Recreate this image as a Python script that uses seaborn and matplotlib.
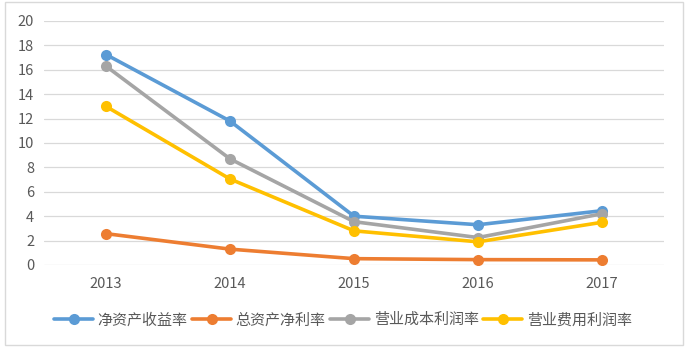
import matplotlib
matplotlib.use("Agg")
import matplotlib.pyplot as plt
import seaborn as sns
import pandas as pd
from matplotlib.patches import Rectangle

years = ["2013", "2014", "2015", "2016", "2017"]
series_names = ["净资产收益率", "总资产净利率", "营业成本利润率", "营业费用利润率"]
roe = [17.25, 11.8, 4.0, 3.3, 4.45]
roa = [2.57, 1.3, 0.52, 0.44, 0.42]
cost_margin = [16.3, 8.7, 3.55, 2.25, 4.2]
expense_margin = [13.0, 7.05, 2.8, 1.9, 3.5]
colors = ["#5B9BD5", "#ED7D31", "#A5A5A5", "#FFC000"]

values = [roe, roa, cost_margin, expense_margin]
rows = []
for name, vals in zip(series_names, values):
    for y, v in zip(years, vals):
        rows.append({"year": y, "value": v, "series": name})
df = pd.DataFrame(rows)

sns.set_style("white")
plt.rcParams['font.family'] = ['Noto Sans CJK SC', 'DejaVu Sans']

fig = plt.figure(figsize=(6.94, 3.52), dpi=100)
ax = fig.add_axes([44/694, 1-265/352, 620/694, 244/352])

sns.lineplot(data=df, x="year", y="value", hue="series", hue_order=series_names,
             palette=colors, marker="o", markersize=8, markeredgewidth=0,
             linewidth=2.6, ax=ax, sort=False)

ax.set_xlim(-0.5, 4.5)
ax.set_ylim(0, 20)
ax.set_yticks(range(0, 21, 2))
ax.set_xlabel("")
ax.set_ylabel("")
for s in ax.spines.values():
    s.set_visible(False)
ax.grid(axis="y", color="#D9D9D9", linewidth=0.9)
ax.set_axisbelow(True)
ax.tick_params(axis="both", length=0, labelsize=10.5, colors="#595959")
ax.tick_params(axis="x", pad=9)
ax.tick_params(axis="y", pad=7)

leg = ax.legend(loc="center", bbox_to_anchor=(343/694, 1-320/352), bbox_transform=fig.transFigure,
                ncol=4, frameon=False, fontsize=10.8, handlelength=2.6,
                handletextpad=0.3, columnspacing=0.3, borderaxespad=0)
for t in leg.get_texts():
    t.set_color("#595959")

fig.patches.append(Rectangle((5/694, 1-345/352), 678/694, 343/352, transform=fig.transFigure,
                             fill=False, edgecolor="#D9D9D9", linewidth=1))

fig.savefig("out.png", dpi=100)
